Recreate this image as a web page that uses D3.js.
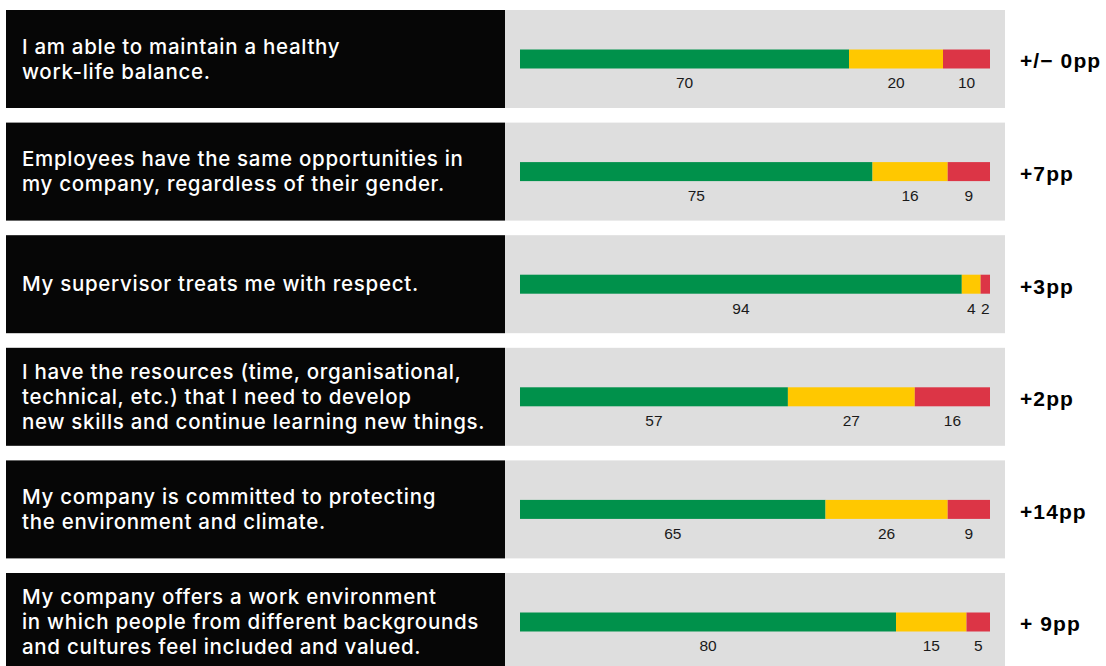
<!DOCTYPE html>
<html>
<head>
<meta charset="utf-8">
<script src="https://cdn.jsdelivr.net/npm/d3@7"></script>
<style>
  html, body { margin: 0; padding: 0; background: #ffffff; }
  svg { display: block; }
</style>
</head>
<body>
<svg id="chart" width="1106" height="666"></svg>
<script>
// ---- data ----
const categories = [
  "I am able to maintain a healthy\nwork-life balance.",
  "Employees have the same opportunities in\nmy company, regardless of their gender.",
  "My supervisor treats me with respect.",
  "I have the resources (time, organisational,\ntechnical, etc.) that I need to develop\nnew skills and continue learning new things.",
  "My company is committed to protecting\nthe environment and climate.",
  "My company offers a work environment\nin which people from different backgrounds\nand cultures feel included and valued."
];
const agree    = [70, 75, 94, 57, 65, 80];
const neutral  = [20, 16, 4, 27, 26, 15];
const disagree = [10, 9, 2, 16, 9, 5];
const changes  = ["+/\u2212 0pp", "+7pp", "+3pp", "+2pp", "+14pp", "+ 9pp"];
const seriesKeys = ["agree", "neutral", "disagree"];
const seriesColors = ["#00914b", "#ffc800", "#dc3546"];

// ---- build table ----
const rows = categories.map((c, i) => ({
  label: c, agree: agree[i], neutral: neutral[i], disagree: disagree[i], change: changes[i]
}));

const svg = d3.select("#chart");

const step = 112.6, gap = 14.6;
const rowScale = d3.scaleBand()
  .domain(d3.range(rows.length))
  .range([10, 10 + step * rows.length - gap])
  .paddingInner(gap / step)
  .paddingOuter(0);

const x = d3.scaleLinear().domain([0, 100]).range([520, 990]);
const color = d3.scaleOrdinal().domain(seriesKeys).range(seriesColors);
const stack = d3.stack().keys(seriesKeys);
const stacked = stack(rows);

const rowH = rowScale.bandwidth();
const barH = 19;

const g = svg.selectAll("g.row").data(rows).join("g")
  .attr("class", "row")
  .attr("transform", (d, i) => `translate(0,${rowScale(i)})`);

// black label box
g.append("rect").attr("x", 6).attr("y", 0).attr("width", 499).attr("height", rowH).attr("fill", "#060606");
// grey panel
g.append("rect").attr("x", 505).attr("y", 0).attr("width", 500).attr("height", rowH).attr("fill", "#dedede");

// label text
g.each(function(d) {
  const lines = d.label.split("\n");
  const lh = 25.2;
  const t = d3.select(this).append("text")
    .attr("fill", "#ffffff")
    .attr("font-family", "Inter, 'Noto Sans', sans-serif")
    .attr("font-weight", 500)
    .attr("font-size", 20.5)
    .attr("letter-spacing", 0.7);
  lines.forEach((ln, k) => {
    t.append("tspan")
      .attr("x", 22)
      .attr("y", rowH / 2 + (k - (lines.length - 1) / 2) * lh)
      .attr("dy", "0.35em")
      .text(ln);
  });
});

// bars
const barTop = rowH / 2 - barH / 2;
seriesKeys.forEach((key, si) => {
  g.append("rect")
    .attr("x", (d, i) => x(stacked[si][i][0]))
    .attr("y", barTop)
    .attr("width", (d, i) => x(stacked[si][i][1]) - x(stacked[si][i][0]))
    .attr("height", barH)
    .attr("fill", color(key));
  g.append("text")
    .attr("x", (d, i) => (x(stacked[si][i][0]) + x(stacked[si][i][1])) / 2)
    .attr("y", rowH / 2 + 24)
    .attr("dy", "0.35em")
    .attr("text-anchor", "middle")
    .attr("font-family", "'Liberation Sans', Arial, sans-serif")
    .attr("font-size", 15.5)
    .attr("fill", "#1a1a1a")
    .text((d, i) => stacked[si][i].data[key]);
});

// change labels
g.append("text")
  .attr("x", 1020)
  .attr("y", rowH / 2 + 2)
  .attr("dy", "0.35em")
  .attr("font-family", "'Liberation Sans', Arial, sans-serif")
  .attr("font-weight", 700)
  .attr("font-size", 21)
  .attr("letter-spacing", 1.1)
  .attr("fill", "#000")
  .text(d => d.change);
</script>
</body>
</html>
